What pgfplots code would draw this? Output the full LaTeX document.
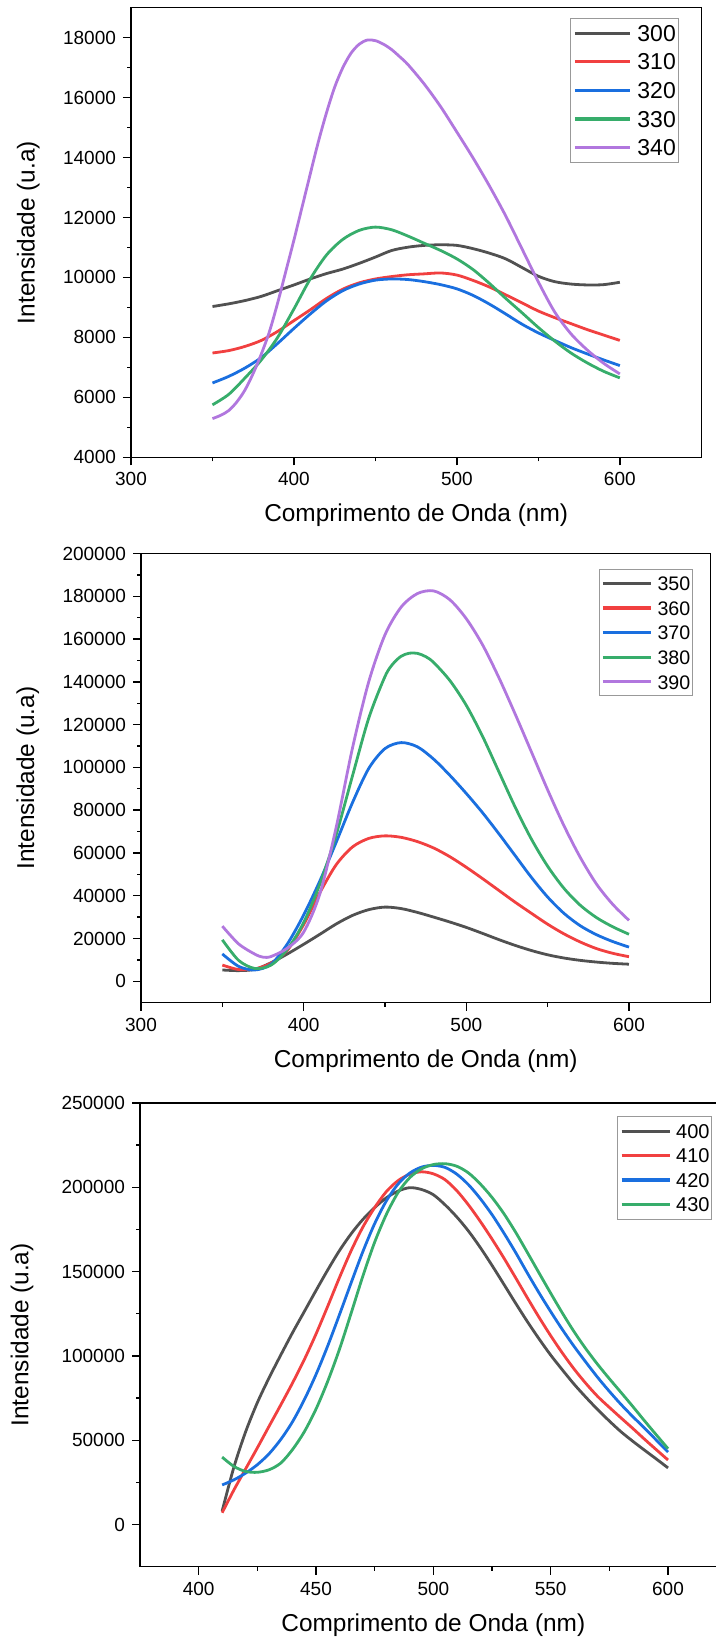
\documentclass[border=0pt]{standalone}
\usepackage{pgfplots}
\pgfplotsset{compat=1.18}
\usepackage{fontspec}
\setmainfont{Liberation Sans}
\definecolor{cK}{HTML}{515151}
\definecolor{cR}{HTML}{F14040}
\definecolor{cB}{HTML}{1A6FDF}
\definecolor{cG}{HTML}{37AD6B}
\definecolor{cP}{HTML}{B177DE}
\pgfplotsset{
  spec/.style={
    scale only axis,
    axis line style={line width=0.7pt, black},
    every tick/.style={line width=0.7pt, black},
    tick align=outside, tick pos=left,
    major tick length=4pt, minor tick length=2pt,
    minor x tick num=1, minor y tick num=1,
    scaled y ticks=false, scaled x ticks=false,
    /pgf/number format/fixed,
    /pgf/number format/precision=0,
    /pgf/number format/1000 sep={},
    /pgf/number format/assume math mode=true,
    ticklabel style={font=\fontsize{9.5}{11}\selectfont},
    label style={font=\fontsize{12.2}{14}\selectfont},
    xlabel={Comprimento de Onda (nm)},
    ylabel={Intensidade (u.a)},
    xlabel style={at={(axis description cs:0.5,0)}, anchor=center, yshift=-29pt},
    every axis plot/.append style={line width=1.4pt, smooth, no marks},
    legend cell align=left,
  }
}
\begin{document}
\begin{tikzpicture}
% ---------------- Panel 1 ----------------
\begin{axis}[spec,
  at={(65.5pt,-3.85pt)}, anchor=north west,
  width=285.15pt, height=224.8pt,
  xmin=300, xmax=650, ymin=4000, ymax=19000,
  xtick={300,400,500,600}, ytick={4000,6000,...,18000},
  ylabel style={at={(axis description cs:-0.18,0.5)}, anchor=center},
  legend image code/.code={\draw[#1,line width=1.6pt] (0pt,0pt) -- (27.5pt,0pt);},
  legend style={at={(axis description cs:1,1)}, anchor=north east, xshift=-11pt, yshift=-5pt,
    draw=gray!80, line width=0.5pt, inner xsep=1.5pt, inner ysep=3.5pt, row sep=6.2pt,
    font=\fontsize{11.5}{13}\selectfont,
    nodes={inner sep=0pt, text height=8.1pt, text depth=0pt},
    /tikz/every odd column/.append style={column sep=3pt}},
]
\addplot[cK] coordinates {(350,9030)(360,9120)(370,9230)(380,9370)(390,9560)(400,9750)(410,9950)(420,10130)(430,10280)(440,10470)(450,10680)(460,10900)(470,11010)(480,11070)(490,11090)(500,11070)(510,10960)(520,10810)(530,10620)(540,10330)(550,10040)(560,9860)(570,9780)(580,9750)(590,9760)(600,9840)};
\addlegendentry{300}
\addplot[cR] coordinates {(350,7480)(360,7560)(370,7700)(380,7900)(390,8200)(400,8560)(410,8920)(420,9300)(430,9610)(440,9820)(450,9950)(460,10030)(470,10090)(480,10120)(490,10150)(500,10080)(510,9900)(520,9680)(530,9420)(540,9150)(550,8880)(560,8660)(570,8460)(580,8260)(590,8080)(600,7900)};
\addlegendentry{310}
\addplot[cB] coordinates {(350,6480)(360,6700)(370,6980)(380,7330)(390,7800)(400,8300)(410,8780)(420,9220)(430,9560)(440,9780)(450,9910)(460,9950)(470,9930)(480,9860)(490,9760)(500,9620)(510,9400)(520,9110)(530,8780)(540,8440)(550,8150)(560,7900)(570,7660)(580,7450)(590,7250)(600,7060)};
\addlegendentry{320}
\addplot[cG] coordinates {(350,5750)(360,6100)(370,6650)(380,7250)(390,8000)(400,8950)(410,9950)(420,10750)(430,11270)(440,11570)(450,11680)(460,11590)(470,11380)(480,11140)(490,10900)(500,10620)(510,10260)(520,9800)(530,9300)(540,8820)(550,8330)(560,7880)(570,7480)(580,7150)(590,6870)(600,6650)};
\addlegendentry{330}
\addplot[cP] coordinates {(350,5290)(355,5400)(360,5560)(365,5850)(370,6250)(375,6800)(380,7450)(385,8200)(390,9150)(395,10200)(400,11250)(405,12350)(410,13450)(415,14530)(420,15500)(425,16350)(430,17000)(435,17480)(440,17780)(445,17920)(450,17900)(455,17780)(460,17600)(465,17360)(470,17100)(480,16450)(490,15700)(500,14850)(510,13980)(520,13050)(530,12050)(540,10950)(550,9850)(560,8850)(570,8120)(580,7580)(590,7140)(600,6780)};
\addlegendentry{340}
\end{axis}
% ---------------- Panel 2 ----------------
\begin{axis}[spec,
  at={(70.5pt,-276.75pt)}, anchor=north west,
  width=284.65pt, height=224.6pt,
  xmin=300, xmax=650, ymin=-10000, ymax=200000,
  xtick={300,400,500,600}, ytick={0,20000,...,200000},
  ylabel style={at={(axis description cs:-0.199,0.5)}, anchor=center},
  legend image code/.code={\draw[#1,line width=1.6pt] (0pt,0pt) -- (24pt,0pt);},
  legend style={at={(axis description cs:1,1)}, anchor=north east, xshift=-8.8pt, yshift=-7.85pt,
    draw=gray!80, line width=0.5pt, inner xsep=1pt, inner ysep=3.25pt, row sep=5.1pt,
    font=\fontsize{9.8}{12}\selectfont,
    nodes={inner sep=0pt, text height=7.2pt, text depth=0pt},
    /tikz/every odd column/.append style={column sep=2.5pt}},
]
\addplot[cK] coordinates {(350,5300)(360,5000)(370,5600)(380,8700)(390,12800)(400,17300)(410,22000)(420,26800)(430,30800)(440,33500)(450,34700)(460,34000)(470,32200)(480,30000)(490,27700)(500,25200)(510,22400)(520,19500)(530,16800)(540,14400)(550,12400)(560,10900)(570,9800)(580,9000)(590,8400)(600,8000)};
\addlegendentry{350}
\addplot[cR] coordinates {(350,7600)(360,5500)(370,5800)(380,8500)(390,14500)(400,26500)(410,41500)(420,54500)(430,62800)(440,66800)(450,68000)(460,67300)(470,65300)(480,62300)(490,58200)(500,53300)(510,48000)(520,42500)(530,37000)(540,31800)(550,26700)(560,22200)(570,18400)(580,15300)(590,13100)(600,11500)};
\addlegendentry{360}
\addplot[cB] coordinates {(350,12800)(360,7000)(370,5300)(380,8000)(390,17500)(400,31000)(410,47000)(420,65000)(430,83500)(440,99500)(450,108800)(460,111600)(470,109600)(480,103800)(490,96200)(500,87800)(510,78800)(520,69000)(530,58800)(540,48600)(550,39400)(560,31800)(570,26000)(580,21800)(590,18600)(600,16000)};
\addlegendentry{370}
\addplot[cG] coordinates {(350,19400)(360,9800)(370,6000)(380,7600)(390,15000)(400,27500)(410,45500)(420,68500)(430,96000)(440,123000)(450,142500)(455,148500)(460,152000)(465,153400)(470,153300)(475,151800)(480,149000)(490,140500)(500,129000)(510,114500)(520,98000)(530,81500)(540,66500)(550,53800)(560,43500)(570,35600)(580,29800)(590,25500)(600,22000)};
\addlegendentry{380}
\addplot[cP] coordinates {(350,25800)(360,17500)(370,12700)(375,11300)(380,11600)(390,15500)(400,23000)(410,41000)(420,72000)(430,109000)(440,140000)(450,162000)(460,175000)(470,181300)(480,182500)(490,178300)(500,169500)(510,157300)(520,142000)(530,125000)(540,107300)(550,89500)(560,72800)(570,58000)(580,45500)(590,36000)(600,28500)};
\addlegendentry{390}
\end{axis}
% ---------------- Panel 3 ----------------
\begin{axis}[spec,
  at={(70pt,-551.5pt)}, anchor=north west,
  width=293.35pt, height=231.85pt,
  xmin=375, xmax=625, ymin=-25000, ymax=250000,
  xtick={400,450,...,600}, ytick={0,50000,...,250000},
  ylabel style={at={(axis description cs:-0.201,0.5)}, anchor=center},
  legend image code/.code={\draw[#1,line width=1.6pt] (0pt,0pt) -- (24pt,0pt);},
  legend style={at={(axis description cs:1,1)}, anchor=north east, xshift=-7.35pt, yshift=-6.5pt,
    draw=gray!80, line width=0.5pt, inner xsep=1pt, inner ysep=3.75pt, row sep=5pt,
    font=\fontsize{10}{12}\selectfont,
    nodes={inner sep=0pt, text height=7.2pt, text depth=0pt},
    /tikz/every odd column/.append style={column sep=2.5pt}},
]
\addplot[cK] coordinates {(410,8000)(415,34000)(420,55000)(425,72300)(430,87000)(435,100600)(440,113800)(445,126300)(450,138800)(455,151000)(460,162500)(465,172500)(470,181000)(475,188000)(480,193800)(485,197800)(490,199800)(495,198700)(500,195600)(505,189600)(510,182400)(515,174000)(520,164300)(525,153700)(530,142600)(535,131400)(540,120500)(545,110200)(550,100500)(555,91700)(560,83200)(565,75500)(570,68200)(575,61400)(580,55000)(585,49400)(590,44100)(595,38900)(600,33600)};
\addlegendentry{400}
\addplot[cR] coordinates {(410,7000)(415,20500)(420,33000)(425,45500)(430,58300)(435,71000)(440,84000)(445,97800)(450,113000)(455,129500)(460,146500)(465,162500)(470,176500)(475,188000)(480,197500)(485,204000)(490,207800)(495,209200)(500,208000)(505,204500)(510,198000)(515,189500)(520,179800)(525,169300)(530,158200)(535,146500)(540,134600)(545,123000)(550,112000)(555,101700)(560,92200)(565,83700)(570,76000)(575,69500)(580,63200)(585,57000)(590,50600)(595,44400)(600,38300)};
\addlegendentry{410}
\addplot[cB] coordinates {(410,23500)(415,26500)(420,30500)(425,35500)(430,42000)(435,50500)(440,61000)(445,74000)(450,89000)(455,106000)(460,124500)(465,143500)(470,162000)(475,178500)(480,192000)(485,202000)(490,208500)(495,212000)(500,213000)(505,211800)(510,207800)(515,201500)(520,193300)(525,183800)(530,173000)(535,161500)(540,149300)(545,137500)(550,126300)(555,115600)(560,105600)(565,96300)(570,87300)(575,79000)(580,71200)(585,64000)(590,57200)(595,50100)(600,43000)};
\addlegendentry{420}
\addplot[cG] coordinates {(410,40000)(415,34500)(420,31500)(425,31000)(430,32500)(435,36500)(440,44500)(445,55000)(450,68500)(455,85000)(460,104000)(465,125500)(470,147500)(475,167500)(480,184000)(485,197000)(490,205800)(495,211000)(500,213500)(505,214000)(510,212500)(515,208500)(520,202000)(525,194000)(530,184500)(535,173500)(540,161500)(545,149300)(550,137200)(555,125400)(560,114300)(565,104200)(570,95000)(575,86500)(580,78300)(585,70000)(590,61500)(595,53200)(600,45000)};
\addlegendentry{430}
\end{axis}
\pgfresetboundingbox
\path[use as bounding box] (0pt,0pt) rectangle (358pt,-820.5pt);
\end{tikzpicture}
\end{document}
